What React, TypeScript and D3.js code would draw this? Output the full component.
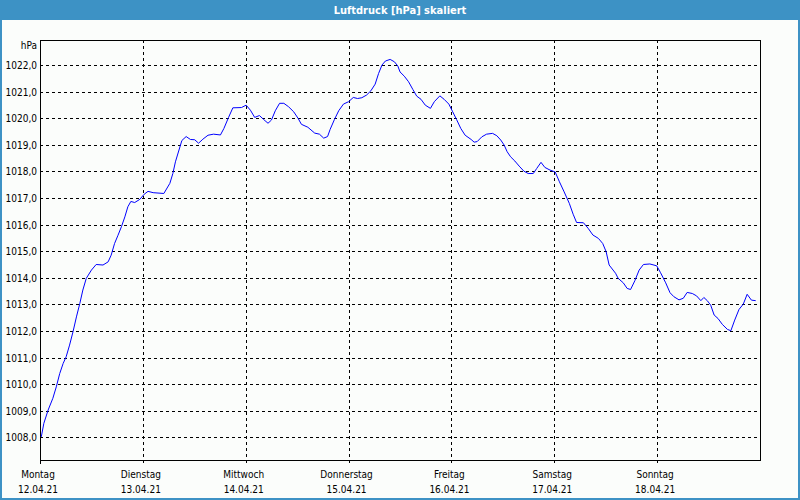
import React from "react";
import * as d3 from "d3";

const TITLE = "Luftdruck [hPa] skaliert";
const UNIT = "hPa";
const DAY_NAMES = ["Montag", "Dienstag", "Mittwoch", "Donnerstag", "Freitag", "Samstag", "Sonntag"];
const DAY_DATES = ["12.04.21", "13.04.21", "14.04.21", "15.04.21", "16.04.21", "17.04.21", "18.04.21"];
const Y_TICKS = [1008, 1009, 1010, 1011, 1012, 1013, 1014, 1015, 1016, 1017, 1018, 1019, 1020, 1021, 1022];

// hours since Monday 12.04.21 00:00
const HOURS = [
  0.3, 0.9, 1.9, 3.0, 3.8, 4.6, 5.4, 6.1, 6.9, 7.7, 8.5, 9.3, 10.0, 10.8, 12.0, 13.1, 14.7, 15.9, 16.6, 17.4,
  18.2, 19.0, 19.8, 20.5, 21.2, 22.1, 23.3, 24.3, 25.2, 26.4, 28.9, 30.3, 31.0, 31.6,
  33.1, 34.1, 35.1, 36.1, 37.0, 38.0, 39.2, 40.5, 42.1, 42.9, 44.0, 45.0, 47.0, 48.1, 49.1, 50.1,
  51.2, 52.2, 53.2, 54.0, 54.9, 55.9, 56.9, 58.0, 59.2, 60.2, 61.0, 62.5, 64.1, 65.2, 66.2, 67.1,
  67.7, 68.7, 69.7, 70.8, 72.0, 73.1, 74.1, 75.1, 76.2, 77.2, 78.2, 79.0, 79.8, 80.6, 81.7, 82.7,
  83.5, 84.0, 85.0, 86.0, 87.0, 87.9, 88.9, 89.9, 91.1, 92.0, 93.3, 94.3, 95.4, 96.3, 97.2, 98.2,
  99.2, 100.6, 101.3, 102.0, 103.1, 104.2, 105.6, 106.6, 107.5, 108.3, 109.0, 109.8, 110.8, 111.8,
  112.9, 113.9, 115.1, 115.9, 116.9, 117.8, 119.0, 120.2, 121.2, 122.3, 123.5, 124.4, 125.2, 126.8,
  127.9, 129.0, 130.3, 131.3, 132.1, 132.8, 134.3, 134.9, 136.1, 137.0, 137.8, 138.8, 139.8, 140.8,
  142.3, 143.9, 144.8, 146.0, 147.0, 147.9, 149.1, 150.1, 151.0, 152.2, 153.2, 154.2, 154.9, 155.7,
  156.5, 157.3, 158.2, 159.2, 160.4, 161.2, 162.1, 163.1, 164.1, 165.0, 166.0, 167.0,
];

const PRESSURE = [
  1008.02, 1008.53, 1009.03, 1009.47, 1009.9, 1010.4, 1010.78, 1011.03, 1011.47, 1011.97, 1012.53, 1013.04,
  1013.54, 1013.98, 1014.29, 1014.5, 1014.48, 1014.6, 1014.85, 1015.29, 1015.6, 1015.92, 1016.29, 1016.67,
  1016.87, 1016.83, 1016.95, 1017.14, 1017.25, 1017.2, 1017.17, 1017.55, 1017.92, 1018.36,
  1019.16, 1019.31, 1019.2, 1019.19, 1019.06, 1019.21, 1019.36, 1019.4, 1019.37, 1019.61, 1020.03, 1020.39,
  1020.4, 1020.49, 1020.3, 1020.03, 1020.1, 1019.95, 1019.81, 1019.93, 1020.28, 1020.56, 1020.56, 1020.43,
  1020.24, 1020.0, 1019.77, 1019.66, 1019.44, 1019.4, 1019.25, 1019.31,
  1019.58, 1019.95, 1020.28, 1020.53, 1020.62, 1020.78, 1020.74, 1020.77, 1020.87, 1021.03, 1021.28, 1021.68,
  1022.0, 1022.15, 1022.21, 1022.12, 1021.96, 1021.74, 1021.58, 1021.37, 1021.08, 1020.83, 1020.71, 1020.49,
  1020.37, 1020.62, 1020.84, 1020.71, 1020.53, 1020.24, 1019.95, 1019.61, 1019.36, 1019.2,
  1019.1, 1019.12, 1019.3, 1019.4, 1019.43, 1019.34, 1019.18, 1018.99, 1018.74, 1018.55, 1018.39, 1018.2,
  1018.01, 1017.92, 1017.92, 1018.11, 1018.34, 1018.15, 1018.05, 1017.98, 1017.61, 1017.23, 1016.8, 1016.39,
  1016.08, 1016.07, 1015.86, 1015.61, 1015.48, 1015.29, 1014.98, 1014.48, 1014.17,
  1013.98, 1013.81, 1013.6, 1013.56, 1013.89, 1014.29, 1014.5, 1014.52, 1014.45, 1014.19, 1013.81, 1013.44,
  1013.29, 1013.17, 1013.23, 1013.45, 1013.41, 1013.32, 1013.14, 1013.26, 1013.14, 1012.97, 1012.6, 1012.47,
  1012.25, 1012.06, 1012.01, 1012.41, 1012.81, 1013.01, 1013.38, 1013.16, 1013.14,
];

const W = 800;
const H = 500;
const M = { left: 40, right: 760, top: 40, bottom: 460 };
const FONT = "'DejaVu Sans Condensed', 'DejaVu Sans', sans-serif";

export default function App() {
  const x = d3.scaleLinear().domain([0, 168]).range([M.left, M.right]);
  const y = d3.scaleLinear().domain([1007.15, 1022.94]).range([M.bottom, M.top]);
  const pts: [number, number][] = HOURS.map((h, i) => [h, PRESSURE[i]]);
  const line = d3
    .line<[number, number]>()
    .x((d) => x(d[0]))
    .y((d) => y(d[1]));

  const snap = (v: number) => Math.round(v) + 0.5;

  return (
    <svg
      width={W}
      height={H}
      style={{ position: "absolute", left: 0, top: 0, display: "block" }}
      fontFamily={FONT}
    >
      <rect x={0} y={0} width={W} height={H} fill="#fbfdfb" />
      <rect x={0} y={0} width={W} height={20} fill="#3d92c5" />
      <rect x={1} y={1} width={W - 2} height={H - 2} fill="none" stroke="#3d92c5" strokeWidth={2} />
      <text x={W / 2} y={14} textAnchor="middle" fill="#ffffff" fontWeight="bold" fontSize={11}>
        {TITLE}
      </text>

      {/* horizontal grid */}
      {Y_TICKS.map((t) => (
        <g key={t}>
          <line
            x1={M.left}
            x2={M.right}
            y1={snap(y(t))}
            y2={snap(y(t))}
            stroke="#000"
            strokeWidth={1}
            strokeDasharray="3,3"
          />
          <text x={37} y={y(t) + 4} textAnchor="end" fontSize={10} fill="#000">
            {t.toFixed(1).replace(".", ",")}
          </text>
        </g>
      ))}
      <text x={37} y={49} textAnchor="end" fontSize={10} fill="#000">
        {UNIT}
      </text>

      {/* vertical grid + day labels */}
      {DAY_NAMES.map((d, i) => (
        <g key={d}>
          {i > 0 && (
            <line
              x1={snap(x(i * 24))}
              x2={snap(x(i * 24))}
              y1={M.top}
              y2={M.bottom + 4}
              stroke="#000"
              strokeWidth={1}
              strokeDasharray="3,3"
            />
          )}
          <text x={x(i * 24) - 2} y={478} textAnchor="middle" fontSize={10} fill="#000">
            {d}
          </text>
          <text x={x(i * 24) - 2} y={493} textAnchor="middle" fontSize={10} fill="#000">
            {DAY_DATES[i]}
          </text>
        </g>
      ))}

      {/* frame */}
      <rect
        x={M.left + 0.5}
        y={M.top + 0.5}
        width={M.right - M.left}
        height={M.bottom - M.top}
        fill="none"
        stroke="#000"
        strokeWidth={1}
      />
      <line x1={M.left + 0.5} x2={M.left + 0.5} y1={M.bottom} y2={M.bottom + 4} stroke="#000" />

      <path d={line(pts) || ""} fill="none" stroke="#0000ff" strokeWidth={1} />
    </svg>
  );
}
